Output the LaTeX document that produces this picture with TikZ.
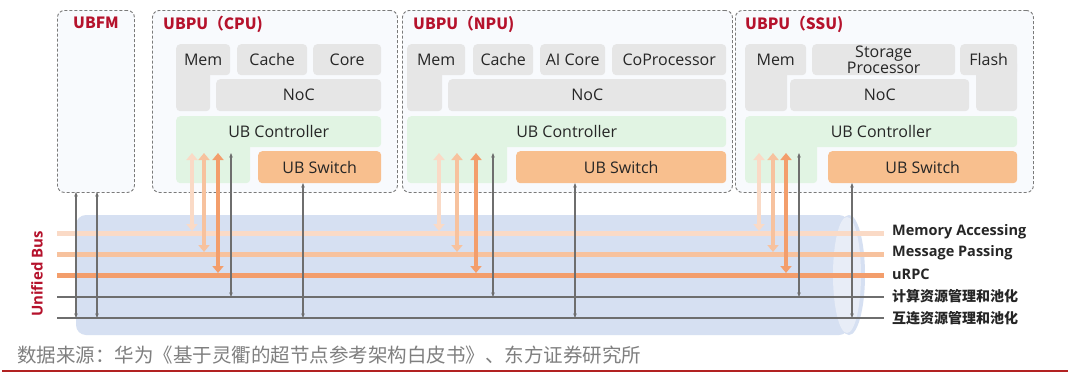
\documentclass[tikz,border=0pt]{standalone}
\usepackage{fontspec}
\setmainfont{Open Sans}
\newfontfamily\cjk{Noto Sans CJK SC}
\usetikzlibrary{arrows.meta}
\definecolor{titlered}{HTML}{B5122C}
\definecolor{dashgray}{HTML}{7A7A7A}
\definecolor{outerfill}{HTML}{F8FAFD}
\definecolor{boxgray}{HTML}{E6E6E6}
\definecolor{ctlgreen}{HTML}{E1F4E3}
\definecolor{swor}{HTML}{F8BF8E}
\definecolor{txt}{HTML}{262626}
\definecolor{busblue}{HTML}{D6E0F2}
\definecolor{buscap}{HTML}{E8EDF7}
\definecolor{maC}{HTML}{FADAC6}
\definecolor{mpC}{HTML}{F7C29E}
\definecolor{rpC}{HTML}{F39E6C}
\definecolor{lineg}{HTML}{6E6E6E}
\definecolor{srcg}{HTML}{7F7F7F}
\definecolor{rulered}{HTML}{B22222}
\begin{document}
\begin{tikzpicture}[x=1pt,y=-1pt,
  outer/.style={draw=dashgray, dash pattern=on 3pt off 2pt, line width=0.9pt, fill=outerfill, rounded corners=7pt, anchor=north west, inner sep=0pt},
  gbox/.style={fill=boxgray, rounded corners=4pt, anchor=north west, inner sep=0pt, align=center, font=\fontsize{16}{16}\selectfont, text=txt},
  ctl/.style={gbox, fill=ctlgreen},
  sw/.style={gbox, fill=swor},
  ttl/.style={anchor=west, inner sep=0pt, text=titlered, font=\cjk\bfseries\fontsize{15.5}{15.5}\selectfont},
  lab/.style={anchor=west, inner sep=0pt, text=txt, font=\bfseries\fontsize{14.5}{15}\selectfont},
  labc/.style={anchor=west, inner sep=0pt, text=txt, font=\cjk\bfseries\fontsize{14}{14}\selectfont},
  busline/.style={line width=5pt},
  thinline/.style={line width=1.1pt, draw=lineg},
  fatarr/.style={line width=4.5pt, {Triangle[width=11pt,length=7pt]}-{Triangle[width=11pt,length=7pt]}},
  grayarr/.style={line width=1.1pt, draw=lineg, {Stealth[length=4.5pt,width=3.5pt]}-{Stealth[length=4.5pt,width=3.5pt]}}
]
\useasboundingbox[fill=white] (0,0) rectangle (1080,378);

% outer dashed frames
\node[outer, minimum width=77pt, minimum height=182pt] (ubfm) at (57,10) {};
\node[outer, minimum width=245pt, minimum height=182pt] (cpu) at (152,10) {};
\node[outer, minimum width=330pt, minimum height=182pt] (npu) at (402,10) {};
\node[outer, minimum width=298pt, minimum height=182pt] (ssu) at (735,10) {};
\node[ttl, anchor=center] (ubfmT) at (96,23) {UBFM};
\node[ttl] (cpuT) at (163,24) {UBPU（CPU)};
\node[ttl] (npuT) at (413,24) {UBPU（NPU)};
\node[ttl] (ssuT) at (745,24) {UBPU（SSU)};

% CPU
\node[gbox, minimum width=34pt, minimum height=51pt] (cmemx) at (176,60) {};
\node[gbox, minimum width=54pt, minimum height=31pt] (cmem) at (176,44) {Mem};
\node[gbox, minimum width=70pt, minimum height=31pt] (ccache) at (237,44) {Cache};
\node[gbox, minimum width=68pt, minimum height=31pt] (ccore) at (313,44) {Core};
\node[gbox, minimum width=165pt, minimum height=32pt] (cnoc) at (216,79) {NoC};
\node[ctl, minimum width=74pt, minimum height=53pt] (cctlx) at (176,130) {};
\node[ctl, minimum width=205pt, minimum height=31pt] (cctl) at (176,116) {UB Controller};
\node[sw, minimum width=123pt, minimum height=32pt] (csw) at (258,151) {UB Switch};

% NPU
\node[gbox, minimum width=35pt, minimum height=51pt] (nmemx) at (407,60) {};
\node[gbox, minimum width=58pt, minimum height=31pt] (nmem) at (407,44) {Mem};
\node[gbox, minimum width=60pt, minimum height=31pt] (ncache) at (473,44) {Cache};
\node[gbox, minimum width=65pt, minimum height=31pt] (nai) at (540,44) {AI Core};
\node[gbox, minimum width=114pt, minimum height=31pt] (ncop) at (612,44) {CoProcessor};
\node[gbox, minimum width=278pt, minimum height=32pt] (nnoc) at (448,79) {NoC};
\node[ctl, minimum width=100pt, minimum height=53pt] (nctlx) at (407,130) {};
\node[ctl, minimum width=319pt, minimum height=31pt] (nctl) at (407,116) {UB Controller};
\node[sw, minimum width=210pt, minimum height=32pt] (nsw) at (516,151) {UB Switch};

% SSU
\node[gbox, minimum width=42pt, minimum height=51pt] (smemx) at (745,60) {};
\node[gbox, minimum width=61pt, minimum height=31pt] (smem) at (745,44) {Mem};
\node[gbox, minimum width=143pt, minimum height=31pt, font=\fontsize{16}{15}\selectfont] (ssp) at (812,44) {Storage\\Processor};
\node[gbox, minimum width=41pt, minimum height=51pt] (sflx) at (976,60) {};
\node[gbox, minimum width=57pt, minimum height=31pt] (sfl) at (960,44) {Flash};
\node[gbox, minimum width=179pt, minimum height=32pt] (snoc) at (790,79) {NoC};
\node[ctl, minimum width=72pt, minimum height=53pt] (sctlx) at (745,130) {};
\node[ctl, minimum width=272pt, minimum height=31pt] (sctl) at (745,116) {UB Controller};
\node[sw, minimum width=189pt, minimum height=32pt] (ssw) at (828,151) {UB Switch};

% bus cylinder
\fill[busblue, rounded corners=10pt] (76,215) rectangle (849,335);
\fill[busblue] (849,275) ellipse [x radius=16, y radius=60];
\fill[buscap] (847,275) ellipse [x radius=14, y radius=58];

% bus lines
\coordinate (maL) at (57,233); \coordinate (maR) at (884,233);
\coordinate (mpL) at (57,254); \coordinate (mpR) at (884,254);
\coordinate (rpL) at (57,275); \coordinate (rpR) at (884,275);
\coordinate (jsL) at (57,297); \coordinate (jsR) at (884,297);
\coordinate (hlL) at (57,318); \coordinate (hlR) at (884,318);
\draw[busline, maC] (maL) -- (maR);
\draw[busline, mpC] (mpL) -- (mpR);
\draw[busline, rpC] (rpL) -- (rpR);
\draw[thinline] (jsL) -- (jsR);
\draw[thinline] (hlL) -- (hlR);
\node[lab] (maT) at (892,232) {Memory Accessing};
\node[lab] (mpT) at (892,253) {Message Passing};
\node[lab] (rpT) at (892,274) {uRPC};
\node[labc] (jsT) at (892,296) {计算资源管理和池化};
\node[labc] (hlT) at (892,318) {互连资源管理和池化};

% arrow top points
\foreach \n/\x in {c1/192,c2/204,c3/218,c4/231,n1/439,n2/457,n3/476,n4/493,s1/759,s2/773,s3/786,s4/799}
  \coordinate (\n) at (\x,153);
\foreach \g in {c,n,s}{
  \draw[fatarr, maC] (\g1) -- ([yshift=2pt]\g1 |- maL);
  \draw[fatarr, mpC] (\g2) -- ([yshift=2pt]\g2 |- mpL);
  \draw[fatarr, rpC] (\g3) -- ([yshift=2pt]\g3 |- rpL);
  \draw[grayarr] (\g4) -- (\g4 |- jsL);
}
% switch arrows
\coordinate (cs) at (303,183);
\coordinate (ns) at (575,183);
\coordinate (ss) at (852,183);
\foreach \s in {cs,ns,ss}
  \draw[grayarr] (\s) -- (\s |- hlL);
% UBFM arrows
\coordinate (f1) at (76,192);
\coordinate (f2) at (97,192);
\draw[grayarr] (f1) -- (f1 |- hlL);
\draw[grayarr] (f2) -- (f2 |- hlL);

% Unified Bus label
\node[rotate=90, inner sep=0pt, text=titlered, font=\bfseries\fontsize{15}{15}\selectfont] (ub) at (37,274) {Unified Bus};

% source
\node[anchor=west, inner sep=0pt, text=srcg, font=\cjk\fontsize{19.5}{20}\selectfont] (src) at (17,355) {数据来源：华为《基于灵衢的超节点参考架构白皮书》、东方证券研究所};
\coordinate (rl) at (2,371); \coordinate (rr) at (1068,371);
\draw[rulered, line width=1.5pt] (rl) -- (rr);
\end{tikzpicture}
\end{document}
